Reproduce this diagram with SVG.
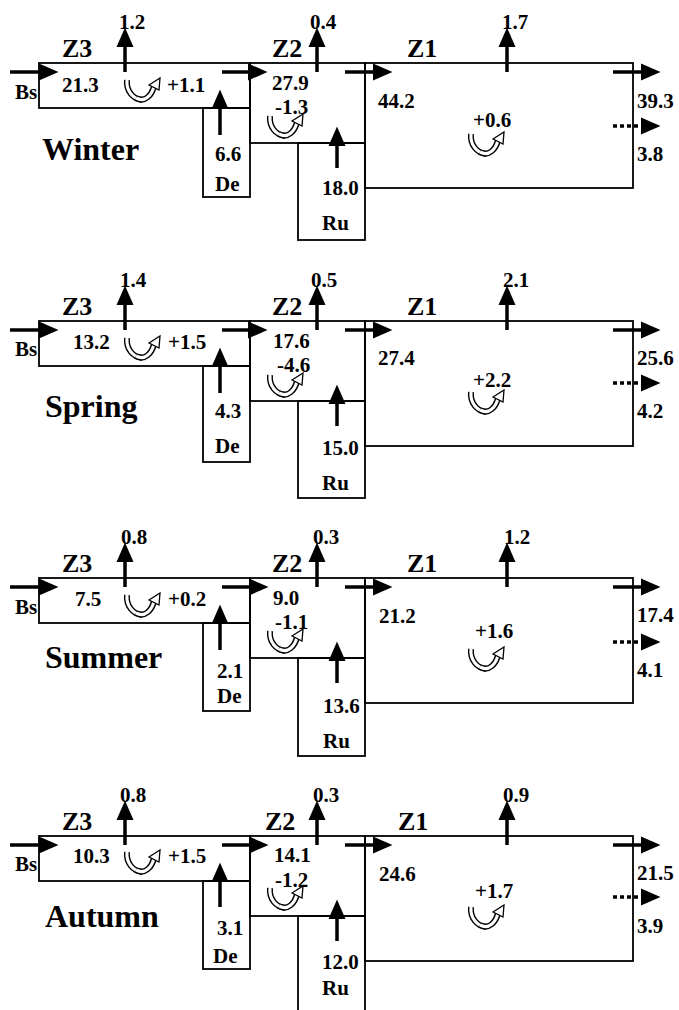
<svg xmlns="http://www.w3.org/2000/svg" xmlns:xlink="http://www.w3.org/1999/xlink" width="679" height="1010" viewBox="0 0 679 1010" font-family="'Liberation Serif', 'DejaVu Serif', serif">
<style>
text{font-family:'Liberation Serif','DejaVu Serif',serif;font-weight:bold;fill:#000}
.n{font-size:21px}
.zl{font-size:26px}
.season{font-size:32px}
.box{fill:none;stroke:#000;stroke-width:1.8}
.flow{stroke:#000;stroke-width:3.5;fill:none;marker-end:url(#ah)}
.dot{stroke:#000;stroke-width:3.5;fill:none;stroke-dasharray:4 3;marker-end:url(#ah)}
.bo{fill:none;stroke:#000;stroke-width:6}
.bi{fill:none;stroke:#fff;stroke-width:3.2}
</style>
<defs>
<marker id="ah" markerUnits="userSpaceOnUse" viewBox="0 -9 20 18" refX="0" refY="0" markerWidth="20" markerHeight="18" orient="auto">
<path d="M0,-8.5 L19.5,0 L0,8.5 z" fill="#000"/>
</marker>
<g id="cyc">
<path class="bo" d="M2,2 C1,13 8,21 17,22"/>
<path class="bi" d="M2,2 C1,13 8,21 17,22"/>
<path class="bo" d="M11,20 C20,25 27,17 29,8"/>
<path class="bi" d="M11,20 C20,25 27,17 29,8"/>
<polygon points="24,7 35,0 34,12" fill="#fff" stroke="#000" stroke-width="1.3"/>
</g>
</defs>
<rect x="0" y="0" width="679" height="1010" fill="#fff"/>

<!-- WINTER -->
<g id="winter" transform="translate(0,0)">
<g id="winter-label"><text class="season" x="42" y="160">Winter</text></g>
<g id="winter-Bs"><text class="n" x="15" y="99">Bs</text></g>
<g id="winter-Z3"><rect class="box" x="39" y="63" width="211" height="45"/><text class="zl" x="62" y="57">Z3</text><text class="n" x="119" y="29">1.2</text><text class="n" x="62" y="92">21.3</text><use xlink:href="#cyc" x="125" y="78"/><text class="n" x="167" y="92">+1.1</text></g>
<g id="winter-De"><rect class="box" x="203" y="108" width="47" height="89"/><text class="n" x="215" y="161">6.6</text><text class="n" x="215" y="191">De</text></g>
<g id="winter-Z2"><rect class="box" x="250" y="63" width="115" height="80"/><text class="zl" x="272" y="57">Z2</text><text class="n" x="310" y="29">0.4</text><text class="n" x="272" y="90">27.9</text><text class="n" x="275" y="114">-1.3</text><use xlink:href="#cyc" x="268" y="114"/></g>
<g id="winter-Ru"><rect class="box" x="298" y="143" width="67" height="97"/><text class="n" x="322" y="195">18.0</text><text class="n" x="322" y="230">Ru</text></g>
<g id="winter-Z1"><rect class="box" x="365" y="63" width="268" height="125"/><text class="zl" x="407" y="57">Z1</text><text class="n" x="502" y="29">1.7</text><text class="n" x="378" y="108">44.2</text><text class="n" x="473" y="127">+0.6</text><use xlink:href="#cyc" x="469" y="132"/><text class="n" x="637" y="108">39.3</text><text class="n" x="637" y="161">3.8</text></g>
<g id="winter-connectors">
<line class="flow" x1="10" y1="72" x2="39" y2="72"/>
<line class="flow" x1="222" y1="72" x2="248" y2="72"/>
<line class="flow" x1="345" y1="72" x2="373" y2="72"/>
<line class="flow" x1="613" y1="72" x2="641" y2="72"/>
<line class="dot" x1="613" y1="126" x2="641" y2="126"/>
<line class="flow" x1="125" y1="72" x2="125" y2="47"/>
<line class="flow" x1="317" y1="72" x2="317" y2="47"/>
<line class="flow" x1="507" y1="72" x2="507" y2="47"/>
<line class="flow" x1="220" y1="135" x2="220" y2="109"/>
<line class="flow" x1="337" y1="168" x2="337" y2="146"/>
</g>
</g>

<!-- SPRING -->
<g id="spring" transform="translate(0,258)">
<g id="spring-label"><text class="season" x="45" y="159">Spring</text></g>
<g id="spring-Bs"><text class="n" x="15" y="98">Bs</text></g>
<g id="spring-Z3"><rect class="box" x="39" y="63" width="211" height="45"/><text class="zl" x="62" y="57">Z3</text><text class="n" x="120" y="29">1.4</text><text class="n" x="73" y="91">13.2</text><use xlink:href="#cyc" x="125" y="78"/><text class="n" x="168" y="91">+1.5</text></g>
<g id="spring-De"><rect class="box" x="203" y="108" width="47" height="96"/><text class="n" x="215" y="160">4.3</text><text class="n" x="215" y="195">De</text></g>
<g id="spring-Z2"><rect class="box" x="250" y="63" width="115" height="80"/><text class="zl" x="272" y="57">Z2</text><text class="n" x="311" y="29">0.5</text><text class="n" x="273" y="90">17.6</text><text class="n" x="277" y="114">-4.6</text><use xlink:href="#cyc" x="268" y="115"/></g>
<g id="spring-Ru"><rect class="box" x="298" y="143" width="67" height="97"/><text class="n" x="322" y="197">15.0</text><text class="n" x="322" y="232">Ru</text></g>
<g id="spring-Z1"><rect class="box" x="365" y="63" width="268" height="125"/><text class="zl" x="407" y="57">Z1</text><text class="n" x="503" y="29">2.1</text><text class="n" x="378" y="107">27.4</text><text class="n" x="473" y="129">+2.2</text><use xlink:href="#cyc" x="469" y="132"/><text class="n" x="637" y="107">25.6</text><text class="n" x="637" y="160">4.2</text></g>
<g id="spring-connectors">
<line class="flow" x1="10" y1="72" x2="39" y2="72"/>
<line class="flow" x1="222" y1="72" x2="248" y2="72"/>
<line class="flow" x1="345" y1="72" x2="373" y2="72"/>
<line class="flow" x1="613" y1="72" x2="641" y2="72"/>
<line class="dot" x1="613" y1="125" x2="641" y2="125"/>
<line class="flow" x1="125" y1="72" x2="125" y2="47"/>
<line class="flow" x1="317" y1="72" x2="317" y2="47"/>
<line class="flow" x1="507" y1="72" x2="507" y2="47"/>
<line class="flow" x1="220" y1="135" x2="220" y2="109"/>
<line class="flow" x1="337" y1="168" x2="337" y2="146"/>
</g>
</g>

<!-- SUMMER -->
<g id="summer" transform="translate(0,515)">
<g id="summer-label"><text class="season" x="45" y="153">Summer</text></g>
<g id="summer-Bs"><text class="n" x="15" y="99">Bs</text></g>
<g id="summer-Z3"><rect class="box" x="39" y="63" width="211" height="45"/><text class="zl" x="62" y="57">Z3</text><text class="n" x="121" y="29">0.8</text><text class="n" x="75" y="91">7.5</text><use xlink:href="#cyc" x="125" y="78"/><text class="n" x="168" y="91">+0.2</text></g>
<g id="summer-De"><rect class="box" x="203" y="108" width="47" height="88"/><text class="n" x="217" y="163">2.1</text><text class="n" x="217" y="188">De</text></g>
<g id="summer-Z2"><rect class="box" x="250" y="63" width="115" height="80"/><text class="zl" x="272" y="57">Z2</text><text class="n" x="313" y="29">0.3</text><text class="n" x="273" y="90">9.0</text><text class="n" x="275" y="114">-1.1</text><use xlink:href="#cyc" x="268" y="114"/></g>
<g id="summer-Ru"><rect class="box" x="298" y="143" width="67" height="98"/><text class="n" x="323" y="198">13.6</text><text class="n" x="323" y="233">Ru</text></g>
<g id="summer-Z1"><rect class="box" x="365" y="63" width="268" height="125"/><text class="zl" x="407" y="57">Z1</text><text class="n" x="504" y="29">1.2</text><text class="n" x="379" y="108">21.2</text><text class="n" x="475" y="123">+1.6</text><use xlink:href="#cyc" x="469" y="132"/><text class="n" x="637" y="107">17.4</text><text class="n" x="637" y="162">4.1</text></g>
<g id="summer-connectors">
<line class="flow" x1="10" y1="72" x2="39" y2="72"/>
<line class="flow" x1="222" y1="72" x2="249" y2="72"/>
<line class="flow" x1="345" y1="72" x2="373" y2="72"/>
<line class="flow" x1="613" y1="72" x2="641" y2="72"/>
<line class="dot" x1="613" y1="127" x2="641" y2="127"/>
<line class="flow" x1="125" y1="72" x2="125" y2="47"/>
<line class="flow" x1="317" y1="72" x2="317" y2="47"/>
<line class="flow" x1="507" y1="72" x2="507" y2="47"/>
<line class="flow" x1="220" y1="135" x2="220" y2="109"/>
<line class="flow" x1="337" y1="168" x2="337" y2="146"/>
</g>
</g>

<!-- AUTUMN -->
<g id="autumn" transform="translate(0,773)">
<g id="autumn-label"><text class="season" x="45" y="154">Autumn</text></g>
<g id="autumn-Bs"><text class="n" x="15" y="98">Bs</text></g>
<g id="autumn-Z3"><rect class="box" x="39" y="63" width="211" height="45"/><text class="zl" x="62" y="57">Z3</text><text class="n" x="120" y="29">0.8</text><text class="n" x="73" y="90">10.3</text><use xlink:href="#cyc" x="125" y="77"/><text class="n" x="168" y="90">+1.5</text></g>
<g id="autumn-De"><rect class="box" x="203" y="108" width="47" height="88"/><text class="n" x="217" y="162">3.1</text><text class="n" x="213" y="190">De</text></g>
<g id="autumn-Z2"><rect class="box" x="250" y="63" width="115" height="80"/><text class="zl" x="265" y="57">Z2</text><text class="n" x="313" y="29">0.3</text><text class="n" x="274" y="89">14.1</text><text class="n" x="275" y="114">-1.2</text><use xlink:href="#cyc" x="268" y="113"/></g>
<g id="autumn-Ru"><rect class="box" x="298" y="143" width="67" height="97"/><text class="n" x="322" y="196">12.0</text><text class="n" x="322" y="222">Ru</text></g>
<g id="autumn-Z1"><rect class="box" x="365" y="63" width="268" height="125"/><text class="zl" x="398" y="57">Z1</text><text class="n" x="503" y="29">0.9</text><text class="n" x="379" y="108">24.6</text><text class="n" x="475" y="125">+1.7</text><use xlink:href="#cyc" x="469" y="132"/><text class="n" x="637" y="107">21.5</text><text class="n" x="637" y="160">3.9</text></g>
<g id="autumn-connectors">
<line class="flow" x1="10" y1="72" x2="39" y2="72"/>
<line class="flow" x1="222" y1="72" x2="249" y2="72"/>
<line class="flow" x1="345" y1="72" x2="373" y2="72"/>
<line class="flow" x1="613" y1="72" x2="641" y2="72"/>
<line class="dot" x1="613" y1="124" x2="641" y2="124"/>
<line class="flow" x1="125" y1="72" x2="125" y2="47"/>
<line class="flow" x1="317" y1="72" x2="317" y2="47"/>
<line class="flow" x1="507" y1="72" x2="507" y2="47"/>
<line class="flow" x1="220" y1="134" x2="220" y2="109"/>
<line class="flow" x1="337" y1="168" x2="337" y2="146"/>
</g>
</g>
</svg>
